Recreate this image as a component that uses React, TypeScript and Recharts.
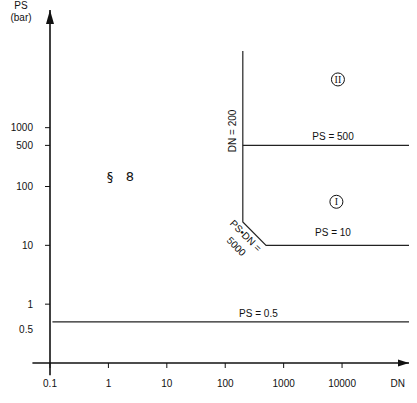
import { LineChart, Line, XAxis, YAxis, ReferenceLine, ReferenceDot, Label } from "recharts";

const DN_TICKS = [0.1, 1, 10, 100, 1000, 10000];
const PS_TICKS = [0.5, 1, 10, 100, 500, 1000];

const DN_MAX = 140000;
const PS_MAX = 100000;

// boundary lines as (DN, PS) points
const ps05Line = [
  { dn: 0.11, ps: 0.5 },
  { dn: 140000, ps: 0.5 },
];
const dn200Line = [
  { dn: 200, ps: 20000 },
  { dn: 200, ps: 25 },
  { dn: 500, ps: 10 },
  { dn: 140000, ps: 10 },
];
const ps500Line = [
  { dn: 200, ps: 500 },
  { dn: 140000, ps: 500 },
];

const lineLabels = [
  { dn: 7000, ps: 700, text: "PS = 500", angle: 0 },
  { dn: 7000, ps: 16.4, text: "PS = 10", angle: 0 },
  { dn: 370, ps: 0.7, text: "PS = 0.5", angle: 0 },
  { dn: 131, ps: 880, text: "DN = 200", angle: -90 },
  { dn: 225, ps: 14.6, text: "PS•DN =", angle: 45 },
  { dn: 155, ps: 9.6, text: "5000", angle: 45 },
];

const zones = [
  { dn: 8000, ps: 55, text: "I" },
  { dn: 8500, ps: 6600, text: "II" },
];

const articleNote = { dn: 1.6, ps: 150, text: "§\u00a0\u00a0\u00a08" };

const INK = "#111";
const FONT = "'Liberation Sans', Arial, sans-serif";

const YTitle = (props: any) => {
  const vb = props.viewBox || { x: 0, y: 10, width: 50 };
  const cx = vb.x + 21;
  return (
    <text x={cx} y={vb.y - 1} textAnchor="middle" fontSize={10} fontFamily={FONT} fill={INK}>
      <tspan x={cx}>PS</tspan>
      <tspan x={cx} dy={11.5}>(bar)</tspan>
    </text>
  );
};

// 0.5 has no tick mark and its label sits a bit low
const YTick = (props: any) => {
  const { x, y, payload } = props;
  const v = payload.value;
  const noMark = v === 0.5;
  return (
    <g>
      {!noMark && <line x1={x + 12} x2={x + 17} y1={y} y2={y} stroke={INK} />}
      <text x={x} y={noMark ? y + 8 : y} dy="0.355em" textAnchor="end" fontSize={10} fill={INK} fontFamily={FONT}>
        {v}
      </text>
    </g>
  );
};

const ArrowRight = (p: any) => (
  <polygon points={`${p.cx},${p.cy} ${p.cx - 11},${p.cy - 3.5} ${p.cx - 11},${p.cy + 3.5}`} fill={INK} />
);

const ArrowUp = (p: any) => (
  <polygon points={`${p.cx},${p.cy} ${p.cx - 4},${p.cy + 14} ${p.cx + 4},${p.cy + 14}`} fill={INK} />
);

export default function App() {
  return (
    <div style={{ position: "absolute", left: 0, top: 0, background: "#fff" }}>
      <LineChart width={417} height={403} margin={{ top: 10, right: 8, bottom: 0, left: 0 }}>
        <XAxis
          dataKey="dn"
          type="number"
          scale="log"
          domain={[0.1, DN_MAX]}
          allowDataOverflow
          ticks={DN_TICKS}
          interval={0}
          height={40}
          tickSize={5}
          tickMargin={12}
          axisLine={false}
          tickLine={{ stroke: INK }}
          tick={{ fontSize: 10, fill: INK, fontFamily: FONT }}
        >
          <Label value="DN" position="insideRight" offset={4} fontSize={10} fill={INK} fontFamily={FONT} />
        </XAxis>
        <YAxis
          type="number"
          scale="log"
          domain={[0.1, PS_MAX]}
          allowDataOverflow
          ticks={PS_TICKS}
          interval={0}
          width={50}
          tickSize={5}
          tickMargin={12}
          axisLine={false}
          tickLine={false}
          tick={<YTick />}
        >
          <Label content={<YTitle />} />
        </YAxis>

        {/* axes with arrows */}
        <ReferenceLine
          segment={[{ x: 0.05, y: 0.1 }, { x: DN_MAX, y: 0.1 }]}
          stroke={INK}
          strokeWidth={1.6}
          ifOverflow="visible"
        />
        <ReferenceLine
          segment={[{ x: 0.1, y: 0.062 }, { x: 0.1, y: PS_MAX }]}
          stroke={INK}
          strokeWidth={1.6}
          ifOverflow="visible"
        />
        <ReferenceDot x={DN_MAX} y={0.1} r={0} ifOverflow="visible" shape={ArrowRight} />
        <ReferenceDot x={0.1} y={PS_MAX} r={0} ifOverflow="visible" shape={ArrowUp} />

        <Line data={ps05Line} dataKey="ps" type="linear" stroke="#222" strokeWidth={1.2} dot={false} activeDot={false} isAnimationActive={false} />
        <Line data={dn200Line} dataKey="ps" type="linear" stroke="#222" strokeWidth={1.2} dot={false} activeDot={false} isAnimationActive={false} />
        <Line data={ps500Line} dataKey="ps" type="linear" stroke="#222" strokeWidth={1.2} dot={false} activeDot={false} isAnimationActive={false} />

        {lineLabels.map((l) => (
          <ReferenceDot key={l.text} x={l.dn} y={l.ps} r={0} stroke="none" fill="none" ifOverflow="visible">
            <Label value={l.text} position="center" angle={l.angle} fontSize={10} fill={INK} fontFamily={FONT} />
          </ReferenceDot>
        ))}

        {zones.map((z) => (
          <ReferenceDot key={z.text} x={z.dn} y={z.ps} r={6.5} fill="#fff" stroke={INK} strokeWidth={1} ifOverflow="visible">
            <Label value={z.text} position="center" fontSize={10} fill={INK} fontFamily="'Liberation Serif', serif" />
          </ReferenceDot>
        ))}

        <ReferenceDot x={articleNote.dn} y={articleNote.ps} r={0} stroke="none" fill="none" ifOverflow="visible">
          <Label value={articleNote.text} position="center" fontSize={13} fill={INK} fontFamily="'DejaVu Sans', sans-serif" />
        </ReferenceDot>
      </LineChart>
    </div>
  );
}
